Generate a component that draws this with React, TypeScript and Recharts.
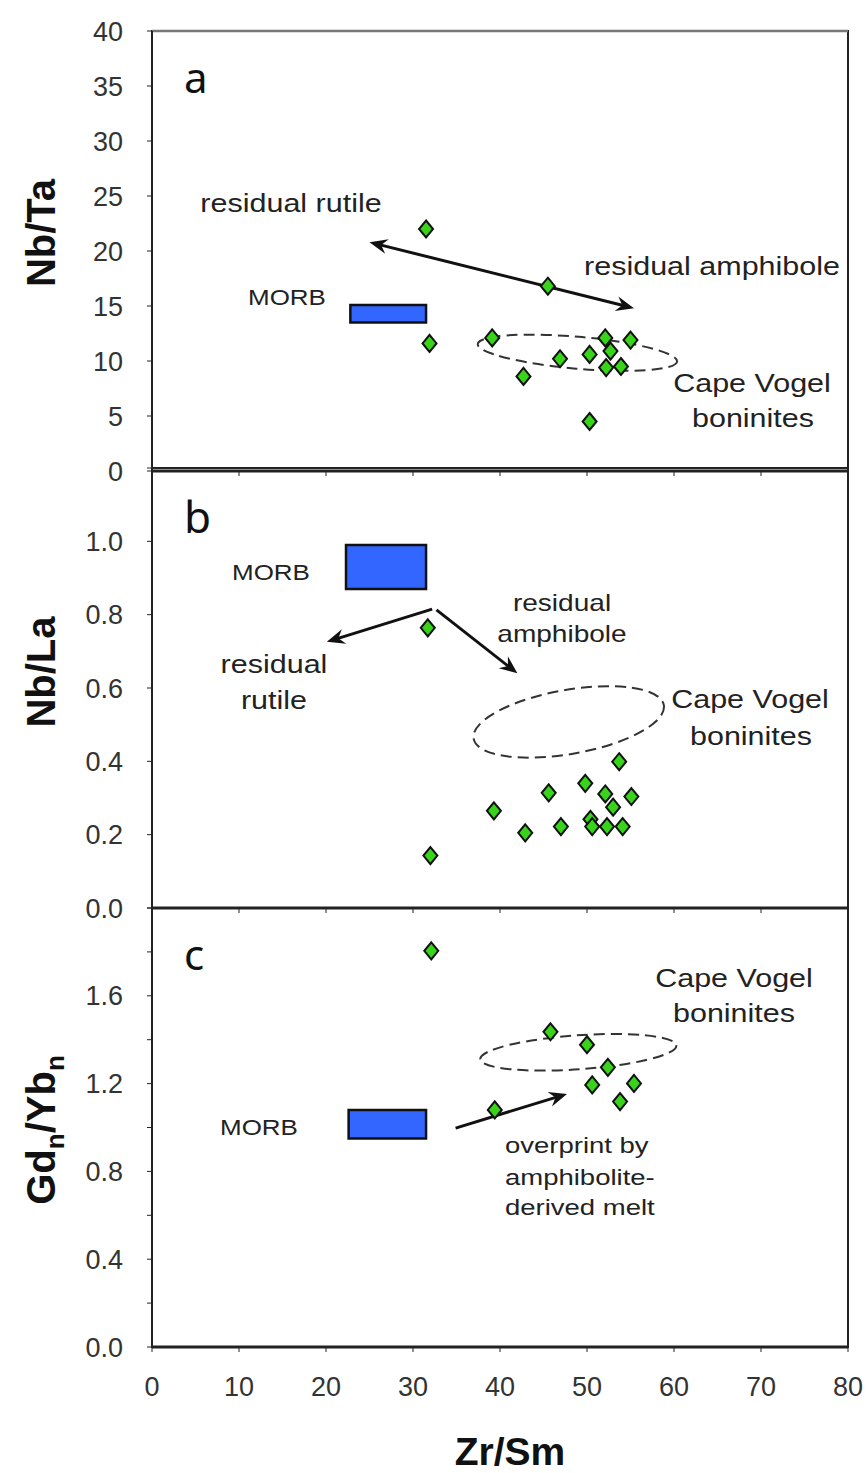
import React from 'react';
import { ScatterChart, Scatter, XAxis, YAxis, ReferenceArea, ReferenceLine } from 'recharts';

const FONT = '"Liberation Sans", Arial, Helvetica, sans-serif';
const W = 867;

const xTicks = [0, 10, 20, 30, 40, 50, 60, 70, 80];

// panel a: Nb/Ta
const zrSmA = [31.5, 45.5, 31.9, 39.1, 42.7, 46.9, 50.3, 52.1, 52.7, 52.2, 53.9, 55.0, 50.3];
const nbTaA = [22.0, 16.8, 11.6, 12.1, 8.6, 10.2, 10.6, 12.1, 10.9, 9.4, 9.5, 11.9, 4.5];
const yTicksA = [0, 5, 10, 15, 20, 25, 30, 35, 40];
const morbXA = [22.8, 31.5];
const morbYA = [13.5, 15.1];
const arrowA = [[25.0, 20.8], [55.4, 14.8]];
const fieldXA = [37.4, 60.4];
const fieldYA = [9.3, 12.2];

// panel b: Nb/La
const zrSmB = [31.7, 32.0, 39.3, 42.9, 45.6, 47.0, 49.8, 50.4, 50.6, 52.1, 52.3, 53.0, 53.7, 54.1, 55.1];
const nbLaB = [0.764, 0.143, 0.265, 0.205, 0.314, 0.222, 0.34, 0.242, 0.222, 0.311, 0.222, 0.275, 0.399, 0.222, 0.304];
const yTicksB = [0, 0.2, 0.4, 0.6, 0.8, 1.0, 1.2];
const morbXB = [22.3, 31.5];
const morbYB = [0.87, 0.99];
const rutileArrowB = [[32.2, 0.815], [20.1, 0.726]];
const amphArrowB = [[32.7, 0.813], [42.0, 0.64]];
const fieldXB = [36.8, 59.0];
const fieldYB = [0.42, 0.595];

// panel c: Gdn/Ybn
const zrSmC = [32.1, 39.4, 45.8, 50.0, 52.4, 50.6, 55.4, 53.8];
const gdYbC = [1.805, 1.08, 1.436, 1.377, 1.274, 1.194, 1.201, 1.118];
const yTicksC = [0, 0.2, 0.4, 0.6, 0.8, 1.0, 1.2, 1.4, 1.6, 1.8, 2.0];
const morbXC = [22.6, 31.5];
const morbYC = [0.95, 1.08];
const arrowC = [[34.9, 0.997], [47.7, 1.153]];
const fieldXC = [37.7, 60.3];
const fieldYC = [1.265, 1.42];

const dataA = zrSmA.map((x, i) => ({ x, y: nbTaA[i] }));
const dataB = zrSmB.map((x, i) => ({ x, y: nbLaB[i] }));
const dataC = zrSmC.map((x, i) => ({ x, y: gdYbC[i] }));

const Diamond = (p: any) => {
  const { cx, cy } = p;
  if (cx == null || cy == null) return null;
  return (
    <polygon
      points={`${cx},${cy - 8.5} ${cx + 7},${cy} ${cx},${cy + 8.5} ${cx - 7},${cy}`}
      fill="#38d41a"
      stroke="#111"
      strokeWidth={2}
    />
  );
};

const head = (tx: number, ty: number, fx: number, fy: number) => {
  const a = Math.atan2(ty - fy, tx - fx);
  const ux = Math.cos(a), uy = Math.sin(a);
  const px = -uy, py = ux;
  const bx = tx - ux * 18, by = ty - uy * 18;
  const nx = tx - ux * 12, ny = ty - uy * 12;
  return (
    <polygon
      points={`${tx},${ty} ${bx + px * 7.5},${by + py * 7.5} ${nx},${ny} ${bx - px * 7.5},${by - py * 7.5}`}
      fill="#111"
    />
  );
};

const arrowShape = (both: boolean) => (p: any) => {
  const { x1, y1, x2, y2 } = p;
  const a = Math.atan2(y2 - y1, x2 - x1);
  const ux = Math.cos(a), uy = Math.sin(a);
  const sx = both ? x1 + ux * 10 : x1;
  const sy = both ? y1 + uy * 10 : y1;
  return (
    <g>
      <line x1={sx} y1={sy} x2={x2 - ux * 10} y2={y2 - uy * 10} stroke="#111" strokeWidth={3} />
      {head(x2, y2, x1, y1)}
      {both && head(x1, y1, x2, y2)}
    </g>
  );
};

const fieldShape = (rot: number) => (p: any) => {
  const { x, y, width, height } = p;
  const cx = x + width / 2;
  const cy = y + height / 2;
  return (
    <ellipse
      cx={cx}
      cy={cy}
      rx={Math.abs(width) / 2}
      ry={Math.abs(height) / 2}
      transform={`rotate(${rot} ${cx} ${cy})`}
      fill="none"
      stroke="#333"
      strokeWidth={2}
      strokeDasharray="11 6"
    />
  );
};

const Note = ({ x, y, text, size = 25, sx = 1.22, anchor = 'middle' }: any) => (
  <text
    transform={`translate(${x},${y}) scale(${sx},1)`}
    textAnchor={anchor}
    fontFamily={FONT}
    fontSize={size}
    fill="#222"
  >
    {text}
  </text>
);

const Letter = ({ x, y, text, size }: any) => (
  <text x={x} y={y} fontFamily='"Noto Sans", "Open Sans", sans-serif' fontSize={size} fill="#111">
    {text}
  </text>
);

const yTitle = (cy: number, content: React.ReactNode) => () => (
  <text
    transform={`translate(55,${cy}) rotate(-90)`}
    textAnchor="middle"
    fontFamily={FONT}
    fontWeight="bold"
    fontSize={40}
    fill="#111"
  >
    {content}
  </text>
);

const tickStyle = { fontSize: 27, fill: '#333', fontFamily: FONT };
const blank = () => '';

const morb = { fill: '#3366ff', fillOpacity: 1, stroke: '#111', strokeWidth: 2.5 };

export default function App() {
  return (
    <div style={{ position: 'absolute', left: 0, top: 0, width: W, height: 1473, background: '#fff' }}>
      {/* panel a */}
      <div style={{ position: 'absolute', left: 0, top: 0 }}>
        <ScatterChart width={W} height={495} margin={{ top: 31, right: 19, left: 72, bottom: 15 }}>
          <XAxis type="number" dataKey="x" domain={[0, 80]} ticks={xTicks} interval={0} height={9}
            tickSize={5} tickFormatter={blank} axisLine={{ stroke: '#222', strokeWidth: 3 }} tickLine={{ stroke: '#222' }} />
          <YAxis type="number" dataKey="y" domain={[0, 40]} ticks={yTicksA} interval={0} width={80}
            tickSize={5} tickMargin={24} tick={tickStyle} axisLine={{ stroke: '#222', strokeWidth: 2 }}
            tickLine={{ stroke: '#222' }} label={yTitle(233, 'Nb/Ta')} />
          <ReferenceArea x1={0} x2={80} y1={0} y2={40} fill="none" stroke="#222" strokeWidth={2} />
          <ReferenceLine y={40} stroke="#777" strokeWidth={2.5} />
          <ReferenceArea x1={morbXA[0]} x2={morbXA[1]} y1={morbYA[0]} y2={morbYA[1]} {...morb} />
          <ReferenceArea x1={fieldXA[0]} x2={fieldXA[1]} y1={fieldYA[0]} y2={fieldYA[1]} shape={fieldShape(5)} />
          <ReferenceLine segment={[{ x: arrowA[0][0], y: arrowA[0][1] }, { x: arrowA[1][0], y: arrowA[1][1] }]}
            shape={arrowShape(true)} />
          <Scatter data={dataA} shape={Diamond} isAnimationActive={false} />
        </ScatterChart>
      </div>

      {/* panel b */}
      <div style={{ position: 'absolute', left: 0, top: 460 }}>
        <ScatterChart width={W} height={475} margin={{ top: 8, right: 19, left: 72, bottom: 18 }}>
          <XAxis type="number" dataKey="x" domain={[0, 80]} ticks={xTicks} interval={0} height={9}
            tickSize={5} tickFormatter={blank} axisLine={{ stroke: '#222', strokeWidth: 3 }} tickLine={{ stroke: '#222' }} />
          <YAxis type="number" dataKey="y" domain={[0, 1.2]} ticks={yTicksB} interval={0} width={80}
            tickSize={5} tickMargin={24} tick={tickStyle} axisLine={{ stroke: '#222', strokeWidth: 2 }}
            tickLine={{ stroke: '#222' }} tickFormatter={(v: number) => (v <= 1.01 ? v.toFixed(1) : '')}
            label={yTitle(212, 'Nb/La')} />
          <ReferenceArea x1={0} x2={80} y1={0} y2={1.2} fill="none" stroke="#222" strokeWidth={2} />
          <ReferenceArea x1={morbXB[0]} x2={morbXB[1]} y1={morbYB[0]} y2={morbYB[1]} {...morb} />
          <ReferenceArea x1={fieldXB[0]} x2={fieldXB[1]} y1={fieldYB[0]} y2={fieldYB[1]} shape={fieldShape(-10)} />
          <ReferenceLine segment={[{ x: rutileArrowB[0][0], y: rutileArrowB[0][1] }, { x: rutileArrowB[1][0], y: rutileArrowB[1][1] }]}
            shape={arrowShape(false)} />
          <ReferenceLine segment={[{ x: amphArrowB[0][0], y: amphArrowB[0][1] }, { x: amphArrowB[1][0], y: amphArrowB[1][1] }]}
            shape={arrowShape(false)} />
          <Scatter data={dataB} shape={Diamond} isAnimationActive={false} />
        </ScatterChart>
      </div>

      {/* panel c */}
      <div style={{ position: 'absolute', left: 0, top: 895 }}>
        <ScatterChart width={W} height={578} margin={{ top: 13, right: 19, left: 72, bottom: 0 }}>
          <XAxis type="number" dataKey="x" domain={[0, 80]} ticks={xTicks} interval={0} height={126}
            tickSize={5} tickMargin={25} tick={tickStyle} axisLine={{ stroke: '#222', strokeWidth: 3 }}
            tickLine={{ stroke: '#222' }}
            label={() => (
              <text x={510} y={570} textAnchor="middle" fontFamily={FONT} fontWeight="bold" fontSize={39} fill="#111">
                Zr/Sm
              </text>
            )} />
          <YAxis type="number" dataKey="y" domain={[0, 2]} ticks={yTicksC} interval={0} width={80}
            tickSize={5} tickMargin={24} tick={tickStyle} axisLine={{ stroke: '#222', strokeWidth: 2 }}
            tickLine={{ stroke: '#222' }}
            tickFormatter={(v: number) => (Math.round(v * 10) % 4 === 0 && v < 1.9 ? v.toFixed(1) : '')}
            label={yTitle(235, (
              <>
                Gd<tspan fontSize={26} dy={9}>n</tspan>
                <tspan dy={-9}>/Yb</tspan>
                <tspan fontSize={26} dy={9}>n</tspan>
              </>
            ))} />
          <ReferenceArea x1={0} x2={80} y1={0} y2={2} fill="none" stroke="#222" strokeWidth={2} />
          <ReferenceArea x1={morbXC[0]} x2={morbXC[1]} y1={morbYC[0]} y2={morbYC[1]} {...morb} />
          <ReferenceArea x1={fieldXC[0]} x2={fieldXC[1]} y1={fieldYC[0]} y2={fieldYC[1]} shape={fieldShape(-4)} />
          <ReferenceLine segment={[{ x: arrowC[0][0], y: arrowC[0][1] }, { x: arrowC[1][0], y: arrowC[1][1] }]}
            shape={arrowShape(false)} />
          <Scatter data={dataC} shape={Diamond} isAnimationActive={false} />
        </ScatterChart>
      </div>

      {/* annotations */}
      <svg width={W} height={1473} style={{ position: 'absolute', left: 0, top: 0, pointerEvents: 'none' }}>
        <Letter x={184} y={93} text="a" size={42} />
        <Note x={291} y={212} text="residual rutile" />
        <Note x={712} y={275} text="residual amphibole" />
        <Note x={287} y={305} text="MORB" size={22} sx={1.18} />
        <Note x={752} y={392} text="Cape Vogel" />
        <Note x={753} y={427} text="boninites" />

        <Letter x={184} y={533} text="b" size={44} />
        <Note x={271} y={580} text="MORB" size={22} sx={1.18} />
        <Note x={562} y={611} text="residual" size={23} />
        <Note x={562} y={642} text="amphibole" size={23} />
        <Note x={274} y={673} text="residual" />
        <Note x={274} y={709} text="rutile" />
        <Note x={750} y={708} text="Cape Vogel" />
        <Note x={751} y={745} text="boninites" />

        <Letter x={184} y={970} text="c" size={42} />
        <Note x={734} y={987} text="Cape Vogel" />
        <Note x={734} y={1022} text="boninites" />
        <Note x={259} y={1135} text="MORB" size={22} sx={1.18} />
        <Note x={505} y={1153} text="overprint by" size={22} sx={1.25} anchor="start" />
        <Note x={505} y={1185} text="amphibolite-" size={22} sx={1.25} anchor="start" />
        <Note x={505} y={1215} text="derived melt" size={22} sx={1.25} anchor="start" />
      </svg>
    </div>
  );
}
